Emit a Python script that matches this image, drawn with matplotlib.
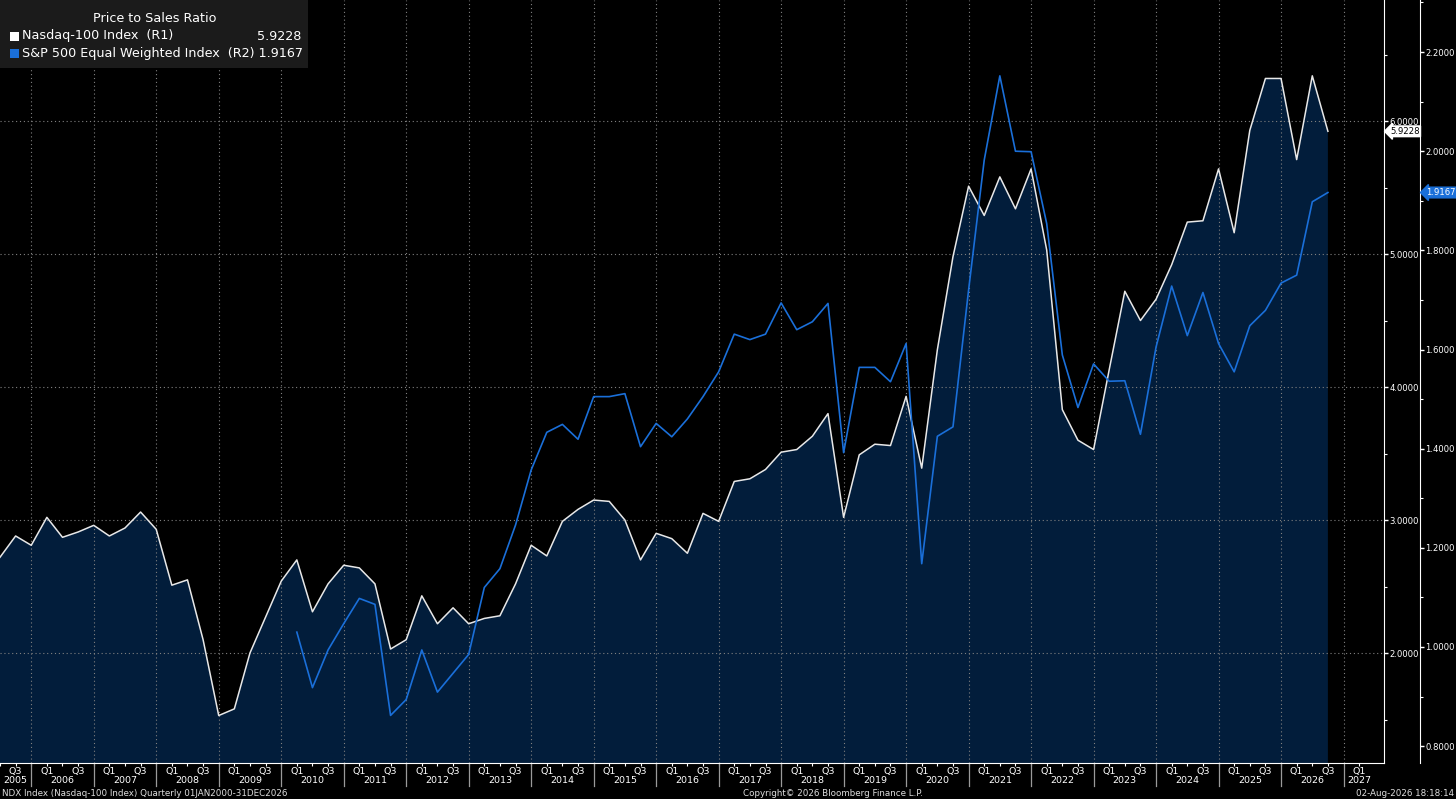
import numpy as np
import pandas as pd
import matplotlib
matplotlib.use("Agg")
import matplotlib.pyplot as plt
from matplotlib.patches import Rectangle
from matplotlib.ticker import FixedLocator, FuncFormatter
import matplotlib.transforms as mtransforms

# Quarterly data, Q2 2005 .. Q3 2026
quarters = pd.period_range("2005Q2", "2026Q3", freq="Q")

# Nasdaq-100 price/sales (R1)
ndx_ps = [
    2.72, 2.88, 2.81, 3.02, 2.87, 2.91, 2.96, 2.88, 2.94, 3.06,
    2.93, 2.51, 2.55, 2.10, 1.53, 1.58, 2.00, 2.27, 2.54, 2.70,
    2.31, 2.52, 2.66, 2.64, 2.52, 2.03, 2.10, 2.43, 2.22, 2.34,
    2.22, 2.26, 2.28, 2.52, 2.81, 2.73, 2.99, 3.08, 3.15, 3.14,
    3.00, 2.70, 2.90, 2.86, 2.75, 3.05, 2.99, 3.29, 3.31, 3.38,
    3.51, 3.53, 3.63, 3.80, 3.02, 3.49, 3.57, 3.56, 3.93, 3.39,
    4.28, 4.98, 5.51, 5.29, 5.58, 5.34, 5.64, 5.03, 3.83, 3.60,
    3.53, 4.13, 4.72, 4.50, 4.66, 4.92, 5.24, 5.25, 5.64, 5.16,
    5.93, 6.32, 6.32, 5.71, 6.34, 5.9228,
]

# S&P 500 Equal Weighted price/sales (R2), starts Q1 2010
spw_start = "2010Q1"
spw_ps = [
    1.030, 0.918, 0.994, 1.047, 1.098, 1.086, 0.862, 0.894, 0.994, 0.909,
    0.947, 0.985, 1.120, 1.158, 1.246, 1.357, 1.433, 1.449, 1.419, 1.505,
    1.505, 1.511, 1.404, 1.451, 1.424, 1.460, 1.505, 1.555, 1.631, 1.620,
    1.631, 1.694, 1.640, 1.656, 1.693, 1.392, 1.564, 1.564, 1.535, 1.612,
    1.168, 1.425, 1.444, 1.720, 1.982, 2.152, 2.000, 1.999, 1.854, 1.589,
    1.483, 1.571, 1.536, 1.537, 1.429, 1.605, 1.728, 1.628, 1.715, 1.612,
    1.555, 1.648, 1.679, 1.734, 1.750, 1.898, 1.9167,
]

r1_ticks = [2, 3, 4, 5, 6]
r2_ticks = [0.8, 1.0, 1.2, 1.4, 1.6, 1.8, 2.0, 2.2]
years = list(range(2005, 2028))

W, H = 1456, 799
fig = plt.figure(figsize=(W / 100, H / 100), dpi=100, facecolor="black")
plt.rcParams["font.family"] = ["DejaVu Sans"]

ax_l, ax_r, ax_b = 0, 1384, 763
ax = fig.add_axes([ax_l / W, 1 - ax_b / H, (ax_r - ax_l) / W, ax_b / H])
ax.set_facecolor("black")

x = quarters.year + quarters.quarter / 4.0
x_spw = x[list(quarters).index(pd.Period(spw_start, freq="Q")):]

fill_col = "#021d3b"
blue = "#1a6fd9"
x_max = 2005.5 + ax_r / 62.49
ysz = 6.1

ax.set_xlim(2005.5, x_max)
ax.set_ylim(1.173, 6.910)

ax.fill_between(x, ndx_ps, 0, color=fill_col, lw=0, zorder=1)
ax.plot(x, ndx_ps, color="#e8e8e8", lw=1.1, zorder=5)

# grid
for v in r1_ticks:
    ax.axhline(v, color="#808080", lw=0.8, ls=(0, (1, 2.5)), zorder=3)
for yr in years[1:]:
    ax.axvline(yr, color="#808080", lw=0.8, ls=(0, (1, 2.5)), zorder=3)

# right axis R2
ax2 = ax.twinx()
ax2.set_ylim(0.766, 2.305)
ax2.plot(x_spw, spw_ps, color=blue, lw=1.2, zorder=6)

for a in (ax, ax2):
    for s in ("top", "left", "bottom"):
        a.spines[s].set_visible(False)
    a.spines["right"].set_color("white")
ax.spines["bottom"].set_visible(True)
ax.spines["bottom"].set_color("white")
ax2.spines["right"].set_position(("outward", 36 * 0.72))

fmt = FuncFormatter(lambda v, p: f"{v:.4f}")
ax.yaxis.tick_right()
ax.yaxis.set_major_locator(FixedLocator(r1_ticks))
ax.yaxis.set_minor_locator(FixedLocator([1.5, 2.5, 3.5, 4.5, 5.5, 6.5]))
ax.yaxis.set_major_formatter(fmt)
ax2.yaxis.set_major_locator(FixedLocator(r2_ticks))
ax2.yaxis.set_minor_locator(FixedLocator(np.arange(0.9, 2.35, 0.2)))
ax2.yaxis.set_major_formatter(fmt)
for a in (ax, ax2):
    a.tick_params(axis="y", which="major", colors="white", labelsize=ysz,
                  length=3, width=1, pad=1)
    a.tick_params(axis="y", which="minor", colors="white", length=2.5, width=0.8)

# x axis: quarter ticks, Q1 / Q3 labels, year labels
ax.set_xticks(x, minor=True)
q_pos = [yr + q / 4 for yr in years for q in (1, 3)
         if 2005.5 < yr + q / 4 < x_max]
q_lab = [f"Q{int(round((p % 1) * 4))}" for p in q_pos]
ax.set_xticks(q_pos)
ax.set_xticklabels(q_lab)
ax.tick_params(axis="x", which="major", colors="white", labelsize=6.8,
               length=2.5, width=0.8, pad=0.5)
ax.tick_params(axis="x", which="minor", colors="white", length=2.5, width=0.8)

trans = mtransforms.blended_transform_factory(ax.transData, ax.transAxes)
for yr in years:
    xc = min(max(yr + 0.5, 2005.75), 2027.25)
    ax.text(xc, -0.0175, str(yr), transform=trans, color="white",
            fontsize=6.8, ha="center", va="top")
    if yr + 1 < x_max:
        ax.plot([yr + 1, yr + 1], [0, -0.03], transform=trans, color="#9a9a9a",
                lw=0.9, clip_on=False)

# last-value tags
tr1 = mtransforms.blended_transform_factory(ax.transAxes, ax.transData)
ax.text(1.0 + 6 / ax_r, ndx_ps[-1], f"{ndx_ps[-1]:.4f}", transform=tr1,
        color="black", fontsize=ysz, va="center", ha="left", zorder=10,
        bbox=dict(boxstyle="larrow,pad=0.1", fc="white", ec="white"))
tr2 = mtransforms.blended_transform_factory(ax2.transAxes, ax2.transData)
ax2.text(1.0 + 42 / ax_r, spw_ps[-1], f"{spw_ps[-1]:.4f}", transform=tr2,
         color="white", fontsize=ysz, va="center", ha="left", zorder=10,
         bbox=dict(boxstyle="larrow,pad=0.1", fc=blue, ec=blue))

# legend box
def fx(px):
    return px / W

def fy(py):
    return 1 - py / H

fig.patches.append(Rectangle((0, fy(68)), fx(308), 68 / H, transform=fig.transFigure,
                             fc="#1b1b1b", ec="none", zorder=20))
fig.text(fx(155), fy(19), "Price to Sales Ratio", color="white", fontsize=9.2,
         ha="center", va="center", zorder=21)
fig.patches.append(Rectangle((fx(10), fy(41)), fx(9), 9 / H, transform=fig.transFigure,
                             fc="white", ec="none", zorder=21))
fig.patches.append(Rectangle((fx(10), fy(58)), fx(9), 9 / H, transform=fig.transFigure,
                             fc=blue, ec="none", zorder=21))
fig.text(fx(22), fy(36), "Nasdaq-100 Index  (R1)", color="white", fontsize=9.2,
         ha="left", va="center", zorder=21)
fig.text(fx(301), fy(36), f"{ndx_ps[-1]:.4f}", color="white", fontsize=9.2,
         ha="right", va="center", zorder=21)
fig.text(fx(22), fy(53), "S&P 500 Equal Weighted Index  (R2) " + f"{spw_ps[-1]:.4f}",
         color="white", fontsize=9.2, ha="left", va="center", zorder=21)

# footer
fig.text(fx(2), fy(793), "NDX Index (Nasdaq-100 Index) Quarterly 01JAN2000-31DEC2026",
         color="#dddddd", fontsize=6.3, ha="left", va="center")
fig.text(fx(833), fy(793), "Copyright\u00a9 2026 Bloomberg Finance L.P.",
         color="#dddddd", fontsize=6.3, ha="center", va="center")
fig.text(fx(1454), fy(793), "02-Aug-2026 18:18:14", color="#dddddd", fontsize=6.3,
         ha="right", va="center")

fig.savefig("out.png", dpi=100, facecolor="black")
